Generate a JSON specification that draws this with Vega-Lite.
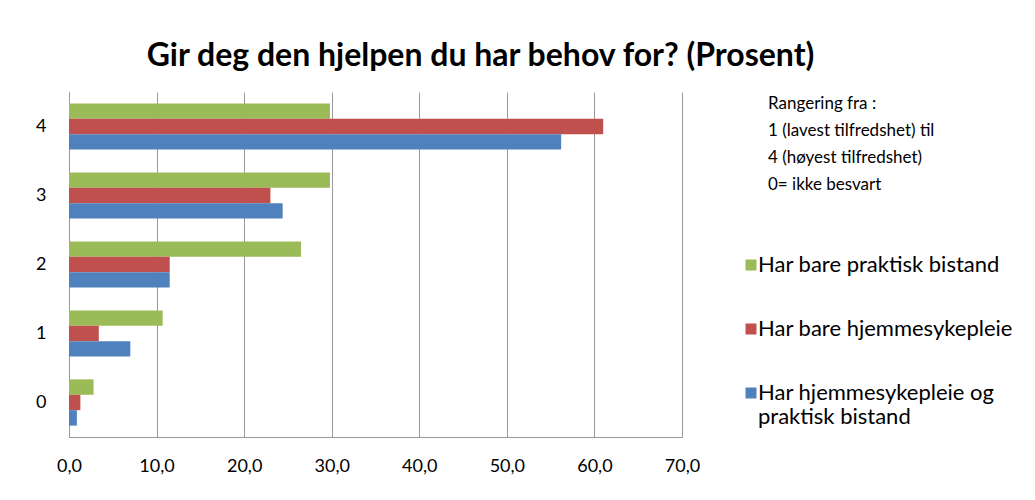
{
  "$schema": "https://vega.github.io/schema/vega-lite/v6.json",
  "width": 613,
  "height": 345,
  "autosize": {"type": "none"},
  "padding": {"left": 69, "top": 92, "right": 353, "bottom": 63},
  "background": "white",
  "title": {
    "text": "Gir deg den hjelpen du har behov for? (Prosent)",
    "font": "Lato",
    "fontSize": 32,
    "fontWeight": "bold",
    "color": "#000000",
    "anchor": "middle",
    "frame": "group",
    "dx": 105,
    "offset": -13,
    "baseline": "bottom"
  },
  "config": {
    "view": {"stroke": null},
    "font": "Lato"
  },
  "data": {
    "values": [
      {"category": "4", "series": "Har bare praktisk bistand", "value": 29.8},
      {"category": "4", "series": "Har bare hjemmesykepleie", "value": 61.0},
      {"category": "4", "series": "Har hjemmesykepleie og praktisk bistand", "value": 56.2},
      {"category": "3", "series": "Har bare praktisk bistand", "value": 29.8},
      {"category": "3", "series": "Har bare hjemmesykepleie", "value": 23.0},
      {"category": "3", "series": "Har hjemmesykepleie og praktisk bistand", "value": 24.4},
      {"category": "2", "series": "Har bare praktisk bistand", "value": 26.5},
      {"category": "2", "series": "Har bare hjemmesykepleie", "value": 11.5},
      {"category": "2", "series": "Har hjemmesykepleie og praktisk bistand", "value": 11.5},
      {"category": "1", "series": "Har bare praktisk bistand", "value": 10.7},
      {"category": "1", "series": "Har bare hjemmesykepleie", "value": 3.4},
      {"category": "1", "series": "Har hjemmesykepleie og praktisk bistand", "value": 7.0},
      {"category": "0", "series": "Har bare praktisk bistand", "value": 2.8},
      {"category": "0", "series": "Har bare hjemmesykepleie", "value": 1.3},
      {"category": "0", "series": "Har hjemmesykepleie og praktisk bistand", "value": 0.9}
    ]
  },
  "mark": {"type": "bar"},
  "encoding": {
    "y": {
      "field": "category",
      "type": "nominal",
      "sort": ["4", "3", "2", "1", "0"],
      "scale": {"paddingInner": 0.33, "paddingOuter": 0.165},
      "axis": {
        "title": null,
        "labelFontSize": 18,
        "labelColor": "#000000",
        "labelFont": "Lato",
        "ticks": false,
        "domainColor": "#999999",
        "labelPadding": 23
      }
    },
    "x": {
      "field": "value",
      "type": "quantitative",
      "scale": {"domain": [0, 70], "nice": false},
      "axis": {
        "title": null,
        "values": [0, 10, 20, 30, 40, 50, 60, 70],
        "grid": true,
        "gridColor": "#999999",
        "gridOpacity": 1,
        "domainColor": "#999999",
        "ticks": false,
        "labelFlush": false,
        "labelPadding": 20,
        "labelFontSize": 18,
        "labelColor": "#000000",
        "labelFont": "Lato",
        "labelExpr": "replace(format(datum.value, '.1f'), '.', ',')"
      }
    },
    "yOffset": {
      "field": "series",
      "type": "nominal",
      "sort": ["Har bare praktisk bistand", "Har bare hjemmesykepleie", "Har hjemmesykepleie og praktisk bistand"],
      "scale": {"paddingInner": 0, "paddingOuter": 0}
    },
    "color": {
      "field": "series",
      "type": "nominal",
      "scale": {
        "domain": ["Har bare praktisk bistand", "Har bare hjemmesykepleie", "Har hjemmesykepleie og praktisk bistand"],
        "range": ["#9BBB59", "#C0504D", "#4F81BD"]
      },
      "legend": {
        "orient": "none",
        "legendX": 699,
        "legendY": 4,
        "padding": 0,
        "title": ["Rangering fra :", "1 (lavest tilfredshet) til", "4 (høyest tilfredshet)", "0= ikke besvart"],
        "titleFont": "Lato",
        "titleFontSize": 17,
        "titleFontWeight": "normal",
        "titleLineHeight": 27,
        "titleColor": "#000000",
        "titlePadding": 60,
        "titleAnchor": "start",
        "titleAlign": "left",
        "labelFont": "Lato",
        "labelFontSize": 22,
        "labelColor": "#000000",
        "labelLimit": 400,
        "labelOffset": -4,
        "symbolOffset": -28,
        "labelExpr": "datum.label == 'Har hjemmesykepleie og praktisk bistand' ? ['Har hjemmesykepleie og', 'praktisk bistand'] : datum.label",
        "symbolType": "square",
        "symbolSize": 121,
        "symbolStrokeWidth": 0,
        "rowPadding": 42
      }
    }
  }
}
